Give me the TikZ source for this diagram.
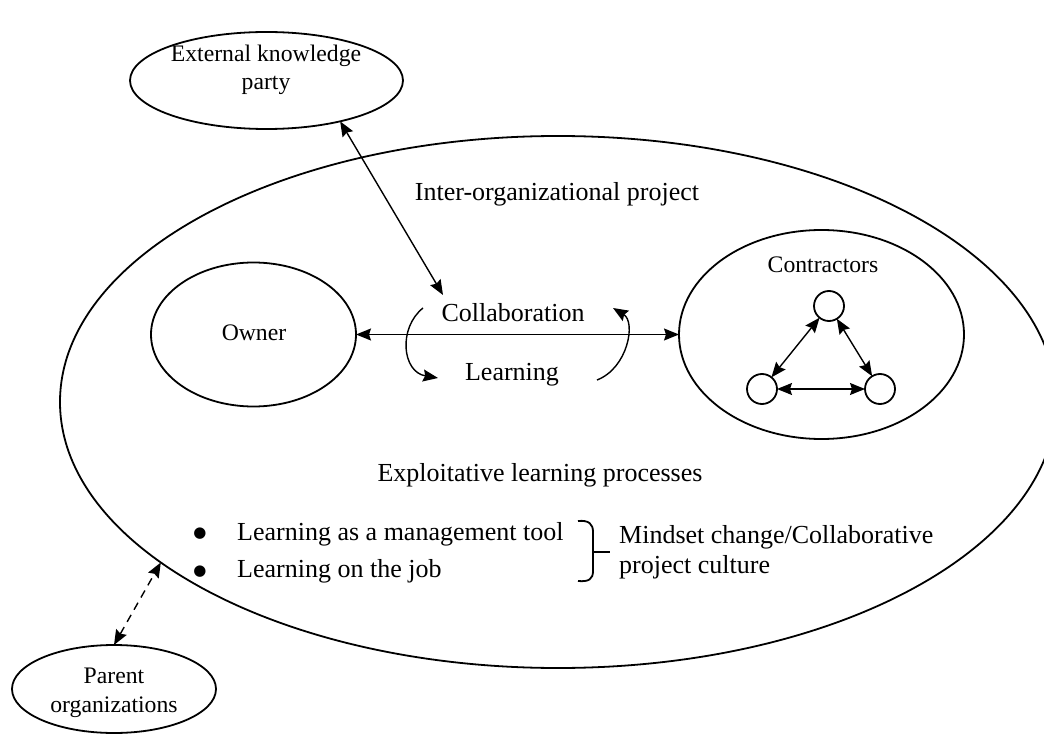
\documentclass[tikz,border=0pt]{standalone}
\usepackage{fontspec}
\setmainfont{Liberation Serif}
\newfontfamily\symfont{DejaVu Sans}
\usetikzlibrary{shapes.geometric,arrows.meta}
\begin{document}
\begin{tikzpicture}[x=1pt,y=-1pt,
  oval/.style={draw, ellipse, line width=1.8pt, inner sep=0pt, outer sep=0pt},
  smallc/.style={draw, circle, line width=1.8pt, inner sep=0pt, outer sep=0pt, minimum size=30pt},
  lbl/.style={font=\fontsize{23.7}{28}\selectfont, inner sep=0pt, anchor=base},
  txt/.style={font=\fontsize{26}{31}\selectfont, inner sep=0pt, anchor=base},
  bul/.style={font=\symfont\fontsize{15}{18}\selectfont, inner sep=0pt, anchor=base},
  txtl/.style={txt, anchor=base west},
  onetip/.style={line width=1.4pt, -{Stealth[length=15pt,width=12pt,inset=2pt]}},
  twotip/.style={line width=1.4pt, {Stealth[length=15pt,width=12pt,inset=2pt]}-{Stealth[length=15pt,width=12pt,inset=2pt]}},
]
\useasboundingbox (0,0) rectangle (1044,735);
\clip (0,0) rectangle (1044,735);

% shapes
\node[oval, minimum width=996pt, minimum height=532pt] (big) at (558,402) {};
\node[oval, minimum width=273pt, minimum height=97pt] (ext) at (266.5,80.5) {};
\node[oval, minimum width=205pt, minimum height=144pt] (owner) at (253.5,334.5) {};
\node[oval, minimum width=285pt, minimum height=209pt] (contr) at (821.5,334.5) {};
\node[oval, minimum width=204pt, minimum height=88pt] (parent) at (114,689) {};
\node[smallc] (c1) at (829,306) {};
\node[smallc] (c2) at (762,389) {};
\node[smallc] (c3) at (880,389) {};

% texts
\node[lbl] (extl1) at (266,62) {External knowledge};
\node[lbl] (extl2) at (266,90) {party};
\node[lbl] (ownerl) at (254,341) {Owner};
\node[lbl] (contrl) at (823,273) {Contractors};
\node[lbl] (parl1) at (114,683) {Parent};
\node[lbl] (parl2) at (114,712) {organizations};
\node[txt] (inter) at (557,201) {Inter-organizational project};
\node[txt] (collab) at (513,322) {Collaboration};
\node[txt] (learn) at (512,380) {Learning};
\node[txt] (exploit) at (540,481) {Exploitative learning processes};
\node[bul] (b1) at (200,537) {●};
\node[bul] (b2) at (200,575) {●};
\node[txtl] (i1) at (237,540) {Learning as a management tool};
\node[txtl] (i2) at (237,577) {Learning on the job};
\node[txtl] (m1) at (619,543) {Mindset change/Collaborative};
\node[txtl] (m2) at (619,573) {project culture};

% connectors
\coordinate (extend) at (443,295);
\draw[twotip] (ext.-29.7) -- (extend);
\draw[twotip] (owner.east) -- (contr.west);
\draw[twotip] (c1) -- (c2);
\draw[twotip] (c1) -- (c3);
\draw[twotip] (c2) -- (c3);
\draw[twotip, dash pattern=on 8pt off 6pt] (parent.north) -- (big.202.4);

\coordinate (la1) at (423,308);
\coordinate (la2) at (438,378);
\coordinate (ra1) at (597,380);
\coordinate (ra2) at (613,308);
\draw[onetip] (la1) .. controls (398,328) and (402,372) .. (la2);
\draw[onetip] (ra1) .. controls (628,368) and (636,322) .. (ra2);

% brace
\draw[line width=1.8pt] (578,521) .. controls (589,520) and (593,524) .. (593,532) -- (593,571) .. controls (593,579) and (589,582) .. (578,581);
\draw[line width=1.8pt] (593,552) -- (610,552);
\end{tikzpicture}
\end{document}
